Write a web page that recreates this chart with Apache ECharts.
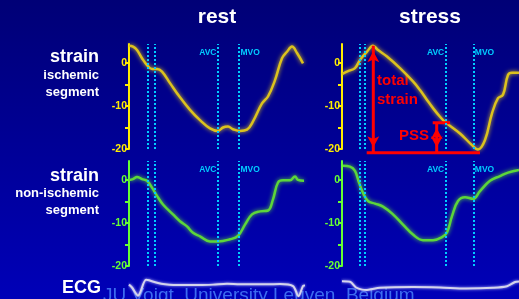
<!DOCTYPE html>
<html>
<head>
<meta charset="utf-8">
<script src="https://cdn.jsdelivr.net/npm/echarts@6/dist/echarts.min.js"></script>
<style>
html, body { margin: 0; padding: 0; }
body { width: 519px; height: 299px; overflow: hidden; background: linear-gradient(#000076, #0000b8); }
#chart { width: 519px; height: 299px; }
</style>
</head>
<body>
<div id="chart"></div>
<script>
// time samples along one cardiac cycle (0..177), strain in %
const restIschT = [0, 4, 8, 13, 18, 23, 28, 33, 41, 51, 61, 71, 81, 89, 94, 99, 104, 111, 118, 124, 133, 139, 146, 153, 158, 163, 168, 174];
const restIschV = [4.0, 3.8, 3.0, 1.1, -0.5, -1.4, -1.4, -2.0, -4.7, -8.0, -10.9, -13.3, -15.2, -15.8, -15.0, -14.8, -15.4, -15.8, -15.5, -13.6, -9.4, -7.8, -4.0, 1.1, 2.6, 3.8, 2.3, -0.1];

const restNormT = [0, 4, 8, 13, 18, 23, 28, 34, 44, 51, 58, 64, 71, 81, 89, 101, 109, 116, 123, 131, 139, 144, 149, 154, 161, 166, 169, 175];
const restNormV = [0, 0.2, 0.7, 0.2, -0.2, -1.8, -3.7, -5.7, -8.0, -9.6, -10.8, -12.3, -13.1, -14.3, -14.3, -13.8, -13.0, -10.4, -8.0, -7.3, -7.1, -4.5, -0.6, -0.1, -0.1, 0.8, 0, -0.2];

const stressIschT = [0, 6, 13, 18, 25, 31, 36, 45, 58, 71, 78, 85, 91, 98, 103, 118, 130, 136, 143, 150, 156, 161, 166, 170, 177];
const stressIschV = [-2.6, -1.9, -1.2, 0.7, 2.6, 4.0, 3.0, 1.5, -1.2, -4.3, -6.3, -8.6, -10.5, -12.5, -13.7, -16.4, -19.1, -20.1, -17.9, -11.7, -8.2, -7.4, -2.8, -2.3, -2.3];

const stressNormT = [1, 8, 13, 17, 21, 26, 33, 41, 51, 61, 71, 81, 91, 100, 105, 110, 116, 123, 131, 138, 148, 158, 166, 177];
const stressNormV = [3.3, 3.1, 2.1, -0.6, -3.0, -4.9, -5.5, -6.2, -8.0, -10.4, -12.7, -14.0, -14.0, -13.3, -12.2, -8.4, -4.9, -4.0, -4.4, -2.6, -0.2, 0.9, 1.7, 2.3];

// ECG (arbitrary units)
const restEcgT = [0, 3, 9, 17, 20, 28, 36, 51, 71, 84, 98, 111, 138, 151, 164, 169.5, 174, 176];
const restEcgV = [15, 12, 3.5, 20, 19.5, 17, 15.5, 14.5, 14.5, 15, 16, 15.3, 15.3, 15.7, 13.5, 3, 13.5, 14];
const stressEcgT = [0, 8, 14, 20, 25, 38, 71, 98, 124, 151, 165, 173, 177];
const stressEcgV = [18.5, 18, 12, 9.8, 9.5, 11.7, 12.5, 12, 11, 11.7, 13.3, 17.7, 18.3];

// timing markers: two onset lines, AVC, MVO
const restEvents = [18.5, 26, 89, 110];
const stressEvents = [17.7, 22.3, 103.7, 131.3];
const eventNames = ['AVC', 'MVO'];

// total strain and post-systolic shortening in the stress ischemic segment
const peakT = 31.3, peakV = 4.0;
const baseV = -20.9, baseFrom = 24.7, baseTo = 138;
const pssT = 94.7, pssV = -13.9, pssFrom = 90.7, pssTo = 108;

const yTicks = [-20, -15, -10, -5, 0];
const yLabels = [-20, -10, 0];

const FONT = '"Liberation Sans", Arial, sans-serif';
const YELLOW_AXIS = '#ffee00', YELLOW_LINE = '#dcc21e';
const GREEN_AXIS = '#66ff33', GREEN_LINE = '#5cd63a';
const CYAN = '#00ccff', RED = '#ff0000';

const zip = (t, v) => t.map((x, i) => [x, v[i]]);

const grids = [
    { left: 129, top: 44, width: 177, height: 105 },
    { left: 342, top: 44, width: 177, height: 105 },
    { left: 129, top: 161, width: 177, height: 105 },
    { left: 342, top: 161, width: 177, height: 105 },
    { left: 129, top: 276, width: 177, height: 24 },
    { left: 342, top: 276, width: 177, height: 24 }
];

function strainAxis(gridIndex, color) {
    return {
        gridIndex: gridIndex,
        type: 'value',
        min: -20,
        max: 4.4,
        splitLine: { show: false },
        axisLine: { show: true, lineStyle: { color: color, width: 2 } },
        axisTick: { show: true, length: 4, customValues: yTicks, lineStyle: { color: color, width: 2 } },
        axisLabel: { color: color, fontFamily: FONT, fontWeight: 'bold', fontSize: 10.5, margin: 2, customValues: yLabels }
    };
}

function eventLabels(events) {
    const lab = (text, pos) => ({
        show: true, formatter: text, position: pos, distance: 1,
        color: CYAN, fontFamily: FONT, fontWeight: 'bold', fontSize: 8.5
    });
    return [
        { coord: [events[2], 2.3], label: lab(eventNames[0], 'left') },
        { coord: [events[3], 2.3], label: lab(eventNames[1], 'right') }
    ];
}

function strainSeries(idx, t, v, color, events) {
    return {
        type: 'line',
        xAxisIndex: idx,
        yAxisIndex: idx,
        data: zip(t, v),
        smooth: 0.4,
        symbol: 'none',
        clip: false,
        z: 3,
        lineStyle: { color: color, width: 2.5, shadowBlur: 4, shadowColor: color },
        markLine: {
            silent: true,
            symbol: 'none',
            animation: false,
            label: { show: false },
            lineStyle: { color: CYAN, type: [2, 2], width: 2 },
            data: events.map(x => ({ xAxis: x }))
        },
        markPoint: {
            silent: true,
            symbol: 'circle',
            symbolSize: 1,
            itemStyle: { color: 'transparent' },
            data: eventLabels(events)
        }
    };
}

function ecgSeries(idx, t, v) {
    return {
        type: 'line',
        xAxisIndex: idx,
        yAxisIndex: idx,
        data: zip(t, v),
        smooth: 0.3,
        symbol: 'none',
        clip: false,
        lineStyle: { color: '#d4d4ec', width: 2, shadowBlur: 3, shadowColor: '#c0c0ff' }
    };
}

// red annotation segments, drawn in the stress ischemic panel
function redSegment(p1, p2, arrows) {
    const head = (p, rot, dy) => arrows
        ? { value: p, symbol: 'arrow', symbolSize: [9, 11], symbolRotate: rot, symbolOffset: [0, dy] }
        : { value: p, symbol: 'none' };
    return {
        type: 'line',
        xAxisIndex: 1,
        yAxisIndex: 1,
        clip: false,
        silent: true,
        z: 4,
        showSymbol: true,
        itemStyle: { color: RED },
        lineStyle: { color: RED, width: 3 },
        data: [head(p1, 0, 5.5), head(p2, 180, -5.5)]
    };
}

function text(str, x, y, size, fill, align, weight) {
    return {
        type: 'text', x: x, y: y, silent: true,
        style: {
            text: str, fill: fill, align: align || 'right', verticalAlign: 'middle',
            font: (weight || 'bold') + ' ' + size + 'px ' + FONT
        }
    };
}

const chart = echarts.init(document.getElementById('chart'));
chart.setOption({
    backgroundColor: 'transparent',
    animation: false,
    grid: grids,
    xAxis: grids.map((g, i) => ({ gridIndex: i, type: 'value', min: 0, max: 177, show: false })),
    yAxis: [
        strainAxis(0, YELLOW_AXIS),
        strainAxis(1, YELLOW_AXIS),
        strainAxis(2, GREEN_AXIS),
        strainAxis(3, GREEN_AXIS),
        { gridIndex: 4, type: 'value', min: 0, max: 24, show: false },
        { gridIndex: 5, type: 'value', min: 0, max: 24, show: false }
    ],
    series: [
        strainSeries(0, restIschT, restIschV, YELLOW_LINE, restEvents),
        strainSeries(1, stressIschT, stressIschV, YELLOW_LINE, stressEvents),
        strainSeries(2, restNormT, restNormV, GREEN_LINE, restEvents),
        strainSeries(3, stressNormT, stressNormV, GREEN_LINE, stressEvents),
        ecgSeries(4, restEcgT, restEcgV),
        ecgSeries(5, stressEcgT, stressEcgV),
        redSegment([peakT, peakV], [peakT, baseV], true),
        redSegment([baseFrom, baseV], [baseTo, baseV], false),
        redSegment([pssT, pssV], [pssT, baseV], true),
        redSegment([pssFrom, pssV], [pssTo, pssV], false)
    ],
    graphic: [
        text('JU Voigt, University Leuven, Belgium', 103, 296, 19, '#3c6cf0', 'left', 'normal'),
        text('rest', 217, 17, 21, '#ffffff', 'center'),
        text('stress', 430, 17, 21, '#ffffff', 'center'),
        text('strain', 99, 57, 18, '#ffffff'),
        text('ischemic', 99, 75, 13, '#ffffff'),
        text('segment', 99, 92, 13, '#ffffff'),
        text('strain', 99, 176, 18, '#ffffff'),
        text('non-ischemic', 99, 193, 13, '#ffffff'),
        text('segment', 99, 210, 13, '#ffffff'),
        text('ECG', 101, 288, 18, '#ffffff'),
        text('total', 377, 81, 15, RED, 'left'),
        text('strain', 377, 100, 15, RED, 'left'),
        text('PSS', 399, 136, 15, RED, 'left')
    ]
});
</script>
</body>
</html>
